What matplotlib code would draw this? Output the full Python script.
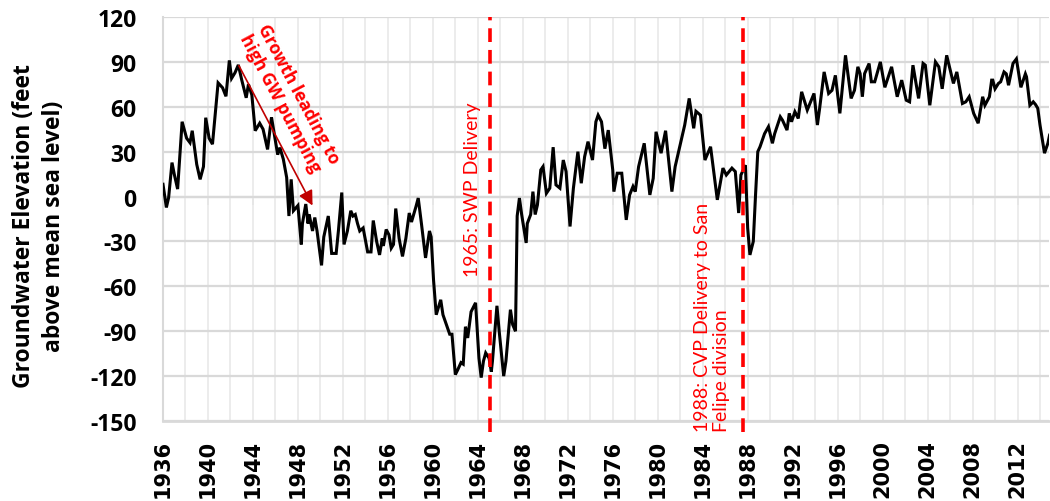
import matplotlib
matplotlib.use("Agg")
import matplotlib.pyplot as plt
import numpy as np

years = [
    1936.0, 1936.3, 1936.5, 1936.8, 1937.0, 1937.3, 1937.7, 1938.1, 1938.4, 1938.6,
    1939.0, 1939.3, 1939.6, 1939.8, 1940.1, 1940.4, 1940.6, 1940.9, 1941.3, 1941.6,
    1941.9, 1942.1, 1942.4, 1942.7, 1943.0, 1943.4, 1943.6, 1943.9, 1944.2, 1944.6,
    1944.9, 1945.3, 1945.65, 1946.2, 1946.4, 1946.7, 1947.0, 1947.2, 1947.4, 1947.6,
    1948.0, 1948.3, 1948.4, 1948.7, 1948.9, 1949.0, 1949.3, 1949.5, 1949.7, 1950.1,
    1950.3, 1950.7, 1951.0, 1951.4, 1951.6, 1951.9, 1952.1, 1952.4, 1952.7, 1952.9,
    1953.1, 1953.3, 1953.5, 1953.8, 1954.2, 1954.5, 1954.7, 1955.0,
    1955.26, 1955.5, 1955.6, 1955.85, 1956.1, 1956.3, 1956.5, 1956.7, 1957.0, 1957.3,
    1957.6, 1957.9, 1958.1, 1958.5, 1958.7, 1959.0, 1959.35, 1959.7, 1959.85, 1960.06,
    1960.3, 1960.7, 1960.9, 1961.5, 1961.7, 1962.0, 1962.2, 1962.5, 1962.7, 1962.9,
    1963.1, 1963.4, 1963.8, 1964.1, 1964.3, 1964.5, 1964.7, 1965.0, 1965.2, 1965.3,
    1965.7, 1965.9, 1966.3, 1966.5, 1966.9, 1967.1, 1967.35, 1967.5, 1967.7, 1967.9,
    1968.3, 1968.4, 1968.7, 1968.9, 1969.1, 1969.3, 1969.6, 1969.8, 1970.1, 1970.4,
    1970.7, 1970.95, 1971.3, 1971.6, 1971.85, 1972.2, 1972.5, 1972.9, 1973.2, 1973.5,
    1973.8, 1974.2, 1974.5, 1974.7, 1975.0, 1975.3, 1975.6, 1976.0, 1976.1, 1976.4,
    1976.8, 1977.2, 1977.5, 1977.8, 1978.0, 1978.3, 1978.8, 1979.3, 1979.6, 1979.85,
    1980.3, 1980.7, 1981.26, 1981.55, 1982.4, 1982.8, 1983.2, 1983.4, 1983.8, 1984.2,
    1984.7, 1985.3, 1985.8, 1986.1, 1986.6, 1986.9, 1987.2, 1987.4, 1987.8, 1988.0,
    1988.2, 1988.5, 1988.7, 1988.9, 1989.1, 1989.5, 1989.85, 1990.2, 1990.4, 1990.9,
    1991.1, 1991.5, 1991.7, 1991.9, 1992.2, 1992.5, 1992.8, 1993.3, 1993.9, 1994.2,
    1994.4, 1994.8, 1995.2, 1995.5, 1995.8, 1996.2, 1996.7, 1997.2, 1997.5, 1997.8,
    1998.0, 1998.2, 1998.4, 1998.8, 1999.0, 1999.3, 1999.8, 2000.2, 2000.8, 2001.3,
    2001.7, 2002.1, 2002.4, 2002.7, 2003.2, 2003.6, 2003.8, 2004.2, 2004.7, 2005.0,
    2005.3, 2005.7, 2006.3, 2006.6, 2007.1, 2007.4, 2007.7, 2008.1, 2008.5, 2008.9,
    2009.1, 2009.5, 2009.7, 2009.8, 2010.0, 2010.3, 2010.5, 2010.8, 2011.0, 2011.2,
    2011.6, 2011.9, 2012.3, 2012.7, 2012.8, 2013.1, 2013.4, 2013.6, 2013.8, 2014.0,
    2014.4, 2014.7, 2014.85,
]

elevation = [
    8.2, -7.3, -0.7, 22.7, 15, 5, 50, 39, 36, 44,
    21.5, 11.5, 20, 52.7, 39, 35, 51.5, 76, 72.7, 67,
    91, 79, 82.7, 88, 78, 66, 75, 68, 44, 49,
    45, 31.5, 53, 28, 32.7, 25, 12.7, -13, 11.5, -9.5,
    -6, -32, -18, -5, -18, -12, -23, -14, -23, -46,
    -27, -13, -38, -38, -23, 2.7, -32, -23, -9.5, -13,
    -12, -18, -23, -21, -37, -37, -16, -30,
    -39, -28, -33, -22, -25.6, -34.5, -32, -8, -28, -40,
    -28, -11, -17, -6.7, -1, -19, -41, -23, -27, -55.6,
    -79, -69, -79, -92, -92, -119, -116, -111, -112, -87,
    -94.5, -77, -71, -108, -121, -110, -104.5, -108, -117, -110,
    -73, -90, -120, -110, -75.6, -85.6, -90, -13, -1, -12,
    -31, -18, -12, 3.3, -12, -5.6, 17.8, 20, 2.2, 5.6,
    33, 7.8, 5.6, 24.4, 16.7, -20, 5.6, 30, 8.9, 26.7,
    36.7, 24.4, 50, 54.4, 50, 32, 44.4, 17.8, 3.3, 15.6,
    15.6, -15.6, 1.1, 6.7, 3.3, 20, 35.6, 1.1, 12.2, 43.3,
    29, 44, 3.3, 20, 47.8, 65.6, 45.6, 57, 54.4, 24.4,
    33.3, -2.2, 19, 14.4, 19, 16.7, -11, 14.4, 21, -21,
    -39, -30, 1.1, 30, 33.3, 42, 46.7, 35.6, 42, 53.3,
    51, 44.4, 55.6, 50, 56.7, 52.2, 70, 57.8, 68.9, 47.8,
    58.9, 83.3, 68.9, 71, 81, 55.6, 94.4, 65.6, 71, 86.7,
    82.2, 66.7, 82.2, 88.9, 76.7, 76.7, 90, 73, 86.7, 66.7,
    77.8, 64.4, 63.3, 87.8, 65.6, 89, 87.8, 61, 90, 86.7,
    72, 94.4, 75.6, 83.3, 62.2, 63.3, 66.7, 55.6, 49, 66.7,
    61, 66.7, 77.8, 77.8, 72, 75.6, 76.7, 83.3, 82, 74.4,
    89, 92, 73, 82, 80, 61, 63.3, 61.5, 59, 47.8,
    29, 35.6, 41,
]

y_ticks = [-150, -120, -90, -60, -30, 0, 30, 60, 90, 120]
x_tick_years = list(range(1936, 2013, 4))
event_years = [1965.05, 1987.6]
event_labels = ["1965: SWP Delivery", "1988: CVP Delivery to San\nFelipe division"]
arrow_from = (1942.75, 87.5)
arrow_to = (1949.3, -6)
growth_label = "Growth leading to\nhigh GW pumping"
y_label = "Groundwater Elevation (feet\nabove mean sea level)"

SANS = "Open Sans"

fig = plt.figure(figsize=(10.5, 5.02), dpi=100)
ax = fig.add_axes([163 / 1050, 1 - 422 / 502, 886 / 1050, 404 / 502])

ax.plot(years, elevation, color="black", lw=2.2, zorder=3, solid_joinstyle="miter")

ax.set_xlim(1936, 2014.8)
ax.set_ylim(-150, 120)

ax.set_yticks(y_ticks)
ax.set_yticklabels([str(v) for v in y_ticks], fontfamily=SANS, fontweight="bold", fontsize=16.5)
ax.tick_params(axis="y", length=0, pad=19)

ax.set_xticks(x_tick_years)
ax.set_xticks(np.arange(1938, 2015, 4), minor=True)
ax.set_xticklabels([str(v) for v in x_tick_years], rotation=90,
                   fontfamily="DejaVu Sans", fontweight="bold", fontsize=15)
ax.tick_params(axis="x", which="both", length=0, pad=13)

ax.yaxis.grid(True, color="#d9d9d9", lw=1.6, zorder=0)
ax.xaxis.grid(True, which="both", color="#ebebeb", lw=1.3, zorder=0)
ax.set_axisbelow(True)

for s in ["top", "right"]:
    ax.spines[s].set_visible(False)
ax.spines["left"].set_color("#d9d9d9")
ax.spines["left"].set_linewidth(1.5)
ax.spines["bottom"].set_color("#d9d9d9")
ax.spines["bottom"].set_linewidth(2)

# x axis crossing at zero with tick marks
sec = ax.secondary_xaxis(150 / 270)
sec.set_alignment("bottom")
sec.set_xticks(x_tick_years)
sec.tick_params(axis="x", direction="out", length=6, width=1.4, color="#bfbfbf",
                labelbottom=False, labeltop=False)
sec.spines["bottom"].set_color("#d9d9d9")
sec.spines["bottom"].set_linewidth(1.6)

ax.set_ylabel(y_label, fontfamily=SANS, fontweight="bold", fontsize=16.5, linespacing=1.3)
ax.yaxis.set_label_coords(-0.11, 0.485)

for yr in event_years:
    ax.axvline(yr, ymin=-0.027, ymax=1, color="#ff0000", lw=2.6,
               ls=(0, (3.8, 2.2)), clip_on=False, zorder=4)

ax.text(1963.55, 5, event_labels[0], rotation=90, color="#ff0000",
        fontfamily="Lato", fontsize=14, ha="center", va="center")
ax.text(1984.8, -157, event_labels[1], rotation=90, color="#ff0000",
        fontfamily="Lato", fontsize=14, ha="center", va="bottom",
        multialignment="left", linespacing=1.15, clip_on=False, zorder=5)

ax.annotate("", xy=arrow_to, xytext=arrow_from,
            arrowprops=dict(arrowstyle="-|>", color="#c00000", lw=1.2,
                            mutation_scale=22, shrinkA=0, shrinkB=0), zorder=5)
ax.text(1947.2, 66, growth_label, rotation=-62, rotation_mode="anchor",
        color="#ff0000", fontfamily=SANS, fontweight="bold", fontsize=12.5,
        ha="center", va="center", multialignment="center", linespacing=1.2, zorder=5)

fig.savefig("out.png", dpi=100)
